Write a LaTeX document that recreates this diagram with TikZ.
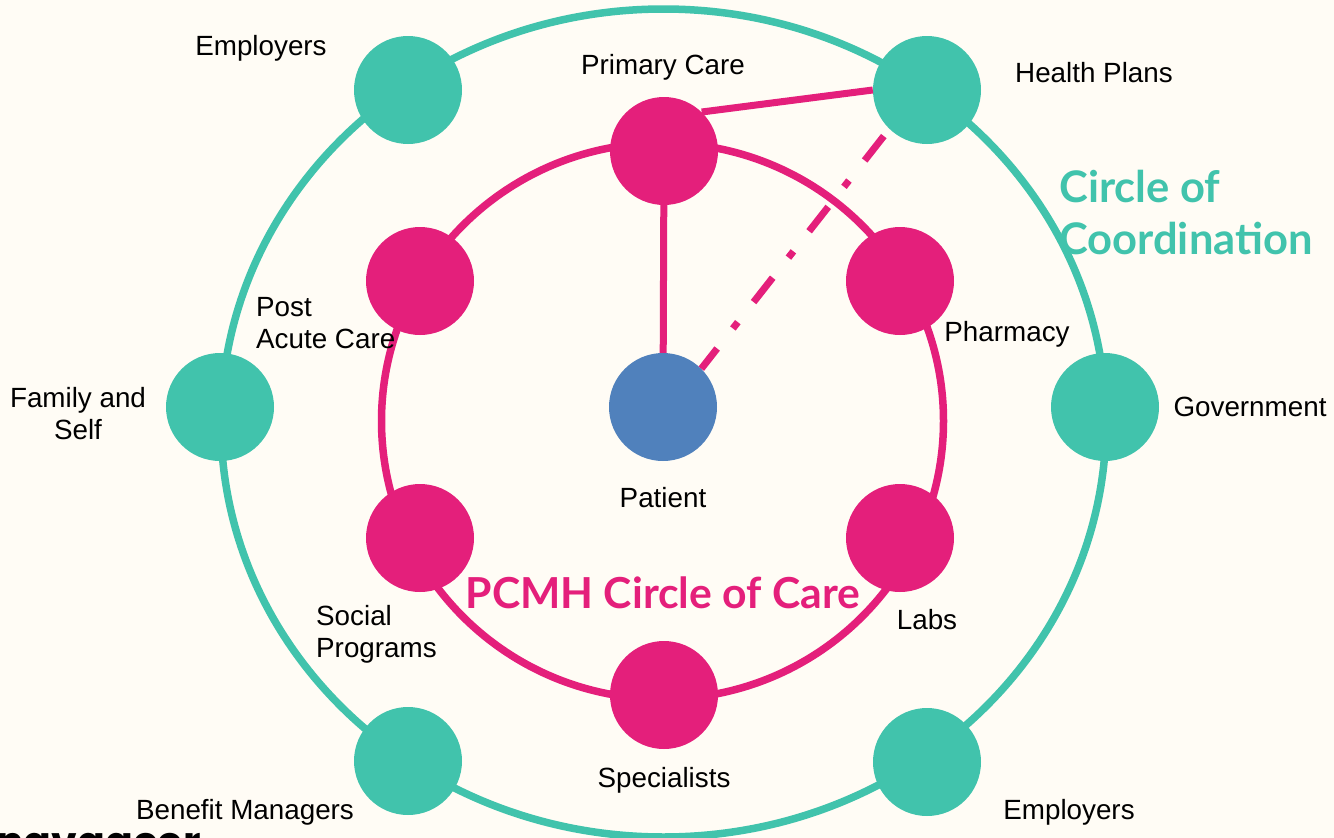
\documentclass[tikz,border=0pt]{standalone}
\usepackage{fontspec}
\setmainfont{Liberation Sans}
\newfontfamily\titlefont{Lato}
\newfontfamily\logofont{Poppins}
\definecolor{bgc}{HTML}{FFFCF5}
\definecolor{teal}{HTML}{41C3AC}
\definecolor{pinkc}{HTML}{E41F7B}
\definecolor{bluec}{HTML}{5081BC}
\begin{document}
\begin{tikzpicture}[x=1pt,y=-1pt,
  dot/.style={circle,minimum size=108pt,inner sep=0pt,draw=none},
  tealdot/.style={dot,fill=teal},
  pinkdot/.style={dot,fill=pinkc},
  bluedot/.style={dot,fill=bluec},
  lab/.style={font=\fontsize{27.8}{32}\selectfont,text=black,inner sep=0pt,align=left},
  ttl/.style={font=\titlefont\bfseries\fontsize{43.5}{52}\selectfont,inner sep=0pt,align=left},
  ring/.style={line width=7.5pt},
  link/.style={line width=7pt,draw=pinkc}]
\useasboundingbox (0,0) rectangle (1334,838);
\fill[bgc] (0,0) rectangle (1334,838);
\begin{scope}
\clip (0,0) rectangle (1334,838);
\node[anchor=base west,inner sep=0pt,font=\logofont\bfseries\fontsize{41}{50}\selectfont,text=black] (logo) at (-4,856) {navgacer};
\end{scope}
\draw[ring,teal] (663.5,423) ellipse [x radius=442.5,y radius=414];
\draw[ring,pinkc] (662.5,421) ellipse [x radius=281,y radius=278];
\node[tealdot] (emp1) at (408,90) {};
\node[tealdot] (hp) at (927,90) {};
\node[tealdot] (fam) at (220,407) {};
\node[tealdot] (gov) at (1105,407) {};
\node[tealdot] (ben) at (408,761) {};
\node[tealdot] (emp2) at (927,762) {};
\node[pinkdot] (pc) at (664,151) {};
\node[pinkdot] (post) at (420,281) {};
\node[pinkdot] (ph) at (900,281) {};
\node[pinkdot] (soc) at (420,538) {};
\node[pinkdot] (labs) at (900,538) {};
\node[pinkdot] (spec) at (664,695) {};
\node[bluedot] (pat) at (663,407) {};
\draw[link] (pc) -- (pat);
\draw[link] (pc.46) -- (hp.180);
\draw[link,dash pattern=on 31pt off 25.5pt on 8pt off 25.5pt,dash phase=81pt] (hp.226) -- (pat.45);
\node[lab,anchor=center] (t1) at (261,48) {Employers};
\node[lab,anchor=center] (t2) at (663,67) {Primary Care};
\node[lab,anchor=center] (t3) at (1094,73) {Health Plans};
\node[lab,anchor=west] (t4) at (256,323) {Post\\Acute Care};
\node[lab,anchor=center] (t5) at (1007,334) {Pharmacy};
\node[lab,anchor=center,align=center] (t6) at (78,414) {Family and\\Self};
\node[lab,anchor=center] (t7) at (1250,407) {Government};
\node[lab,anchor=center] (t8) at (663,498) {Patient};
\node[lab,anchor=west] (t9) at (316,634) {Social\\Programs};
\node[lab,anchor=center] (t10) at (927,620) {Labs};
\node[lab,anchor=center] (t11) at (664,780) {Specialists};
\node[lab,anchor=center] (t12) at (245,812) {Benefit Managers};
\node[lab,anchor=center] (t13) at (1069,812) {Employers};
\node[ttl,text=teal,anchor=west] (c1) at (1059,213) {Circle of\\Coordination};
\node[ttl,text=pinkc,anchor=center,font=\titlefont\bfseries\fontsize{42.7}{52}\selectfont] (c2) at (663,593) {PCMH Circle of Care};
\end{tikzpicture}
\end{document}
